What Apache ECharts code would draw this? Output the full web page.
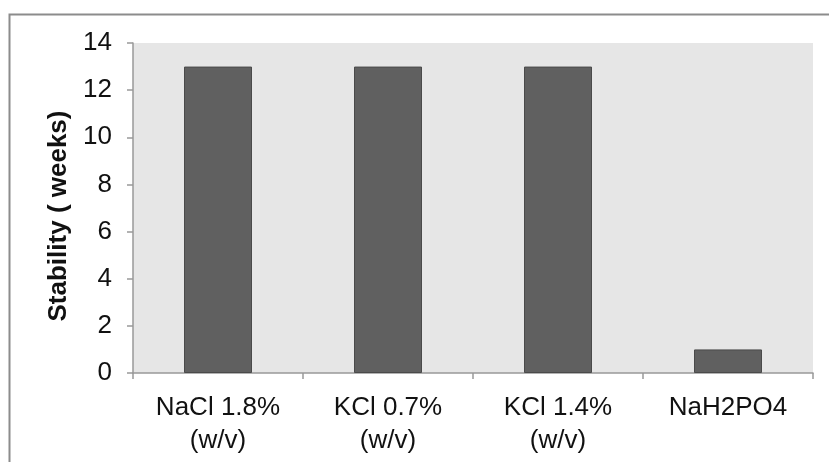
<!DOCTYPE html>
<html>
<head>
<meta charset="utf-8">
<script src="https://cdn.jsdelivr.net/npm/echarts@6/dist/echarts.min.js"></script>
<style>
  html, body { margin: 0; padding: 0; background: #fff; }
  #chart { width: 829px; height: 462px; }
</style>
</head>
<body>
<div id="chart"></div>
<script>
// data
const categories = ['NaCl 1.8%\n(w/v)', 'KCl 0.7%\n(w/v)', 'KCl 1.4%\n(w/v)', 'NaH2PO4']
const stability = [13, 13, 13, 1]
const yTicks = { min: 0, max: 14, interval: 2 }

const chart = echarts.init(document.getElementById('chart'))
chart.setOption({
  animation: false,
  textStyle: { fontFamily: 'Liberation Sans, Arial, sans-serif' },
  grid: {
    left: 133,
    right: 16,
    top: 43,
    bottom: 89,
    show: true,
    backgroundColor: '#e6e6e6',
    borderWidth: 0
  },
  xAxis: {
    type: 'category',
    data: categories,
    axisLine: { lineStyle: { color: '#999', width: 1.5 } },
    axisTick: { show: true, length: 6, lineStyle: { color: '#999', width: 1.5 } },
    axisLabel: {
      color: '#111',
      fontSize: 26,
      lineHeight: 33,
      margin: 18,
      interval: 0
    }
  },
  yAxis: {
    type: 'value',
    min: yTicks.min,
    max: yTicks.max,
    interval: yTicks.interval,
    name: 'Stability ( weeks)',
    nameLocation: 'middle',
    nameGap: 48,
    nameTextStyle: { color: '#111', fontSize: 26, fontWeight: 'bold', padding: [0, 16, 0, 0] },
    axisLine: { show: true, lineStyle: { color: '#999', width: 1.5 } },
    axisTick: { show: true, length: 6, lineStyle: { color: '#999', width: 1.5 } },
    axisLabel: { color: '#111', fontSize: 26, margin: 21 },
    splitLine: { show: false }
  },
  series: [
    {
      type: 'bar',
      data: stability,
      barWidth: '40%',
      itemStyle: {
        color: '#606060',
        borderColor: '#4a4a4a',
        borderWidth: 1
      }
    }
  ],
  graphic: [
    {
      type: 'rect', // outer frame, only top/left visible
      shape: { x: 9.5, y: 14.5, width: 840, height: 470 },
      style: { fill: 'none', stroke: '#8c8c8c', lineWidth: 2 },
      z: -10
    }
  ]
})
</script>
</body>
</html>
